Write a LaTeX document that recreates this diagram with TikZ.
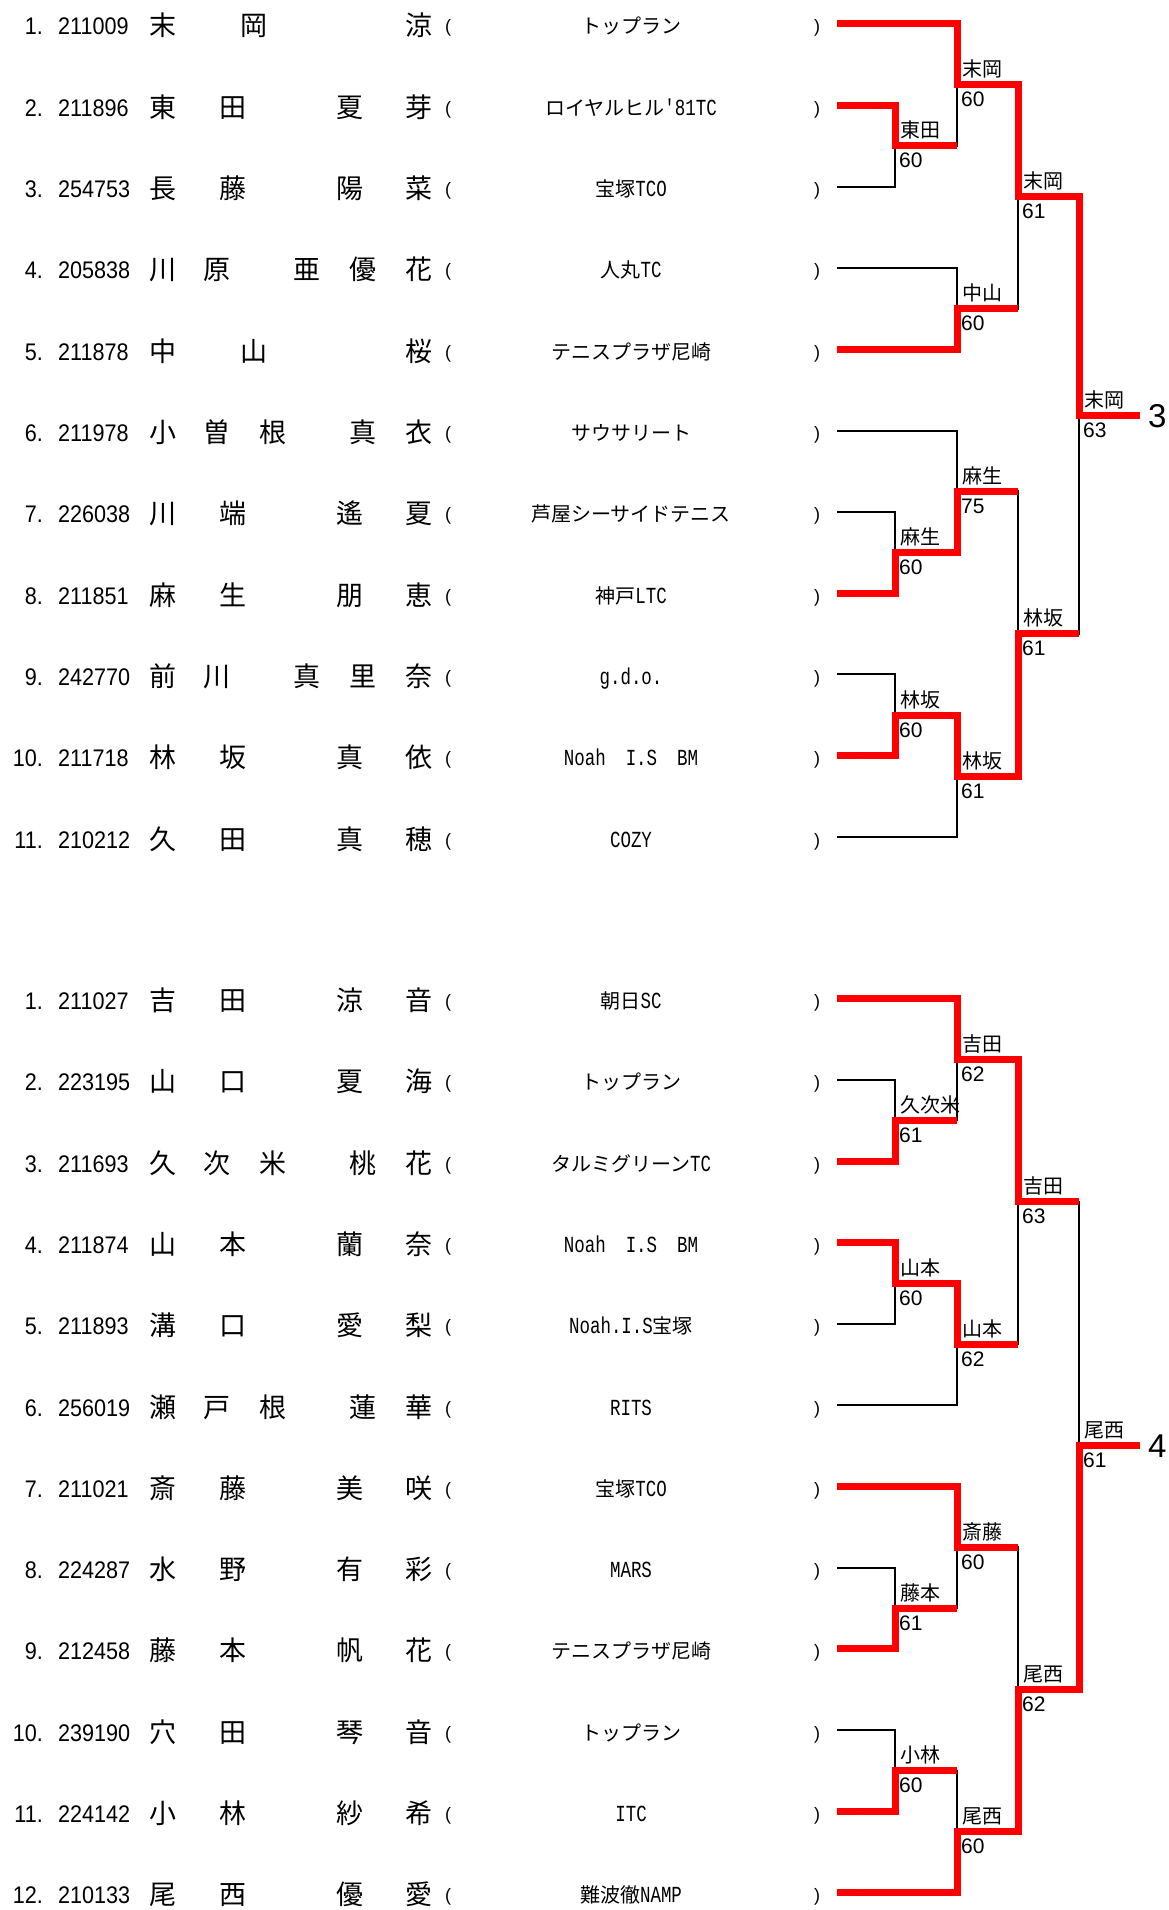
\documentclass[tikz,border=0pt]{standalone}
\usepackage{fontspec}
\setmainfont{Liberation Sans}
\newfontfamily\cjk{Noto Sans CJK JP}
\newfontfamily\numf[FakeStretch=0.9]{Liberation Sans}
\newfontfamily\monof[FakeStretch=0.76]{Liberation Mono}
\usetikzlibrary{calc}
\newcommand\CL[1]{{\monof\fontsize{23}{23}\selectfont #1}}
\tikzset{
  numtxt/.style={inner sep=0pt, font=\numf\fontsize{24}{24}\selectfont},
  kanji/.style={inner sep=0pt, anchor=base, font=\cjk\fontsize{27}{27}\selectfont},
  clubtxt/.style={inner sep=0pt, anchor=base, font=\cjk\fontsize{20}{20}\selectfont},
  paren/.style={inner sep=0pt, anchor=base, font=\fontsize{18}{18}\selectfont},
  blk/.style={line width=2pt, black},
  win/.style={line width=7pt, red, line join=miter},
  wname/.style={inner sep=0pt, anchor=base west, font=\cjk\fontsize{20}{20}\selectfont},
  wscore/.style={inner sep=0pt, anchor=base west, font=\fontsize{21}{21}\selectfont},
  rank/.style={inner sep=0pt, anchor=base west, font=\fontsize{33}{33}\selectfont}
}
\newcommand\player[6]{%
  \node[numtxt, anchor=base east] (#1n) at (43,#2+11) {#3};
  \node[numtxt, anchor=base west] (#1i) at (58,#2+11) {#4};
  \foreach \cx/\ch [count=\k] in {#5} {\node[kanji] (#1k\k) at (\cx,#2+12) {\ch};}
  \node[paren] (#1l) at (448,#2+9) {(};
  \node[clubtxt] (#1c) at (631,#2+10) {#6};
  \node[paren] (#1r) at (817,#2+9) {)};
  \coordinate (#1) at (837,#2);
}
\newcommand\res[3]{%
  \node[wname] (#1n) at ($(#1)+(5,-8)$) {#2};
  \node[wscore] (#1s) at ($(#1)+(4,22)$) {#3};
}
\begin{document}
\begin{tikzpicture}[x=1pt,y=-1pt]
\useasboundingbox (0,0) rectangle (1168,1910);
% ---------------- bracket 1 ----------------
\player{a1}{24}{1.}{211009}{163/末,254/岡,419/涼}{トップラン}
\player{a2}{105.3}{2.}{211896}{163/東,233/田,350/夏,419/芽}{ロイヤルヒル\CL{'81TC}}
\player{a3}{186.6}{3.}{254753}{163/長,233/藤,350/陽,419/菜}{宝塚\CL{TCO}}
\player{a4}{267.9}{4.}{205838}{163/川,217/原,307/亜,363/優,419/花}{人丸\CL{TC}}
\player{a5}{349.2}{5.}{211878}{163/中,254/山,419/桜}{テニスプラザ尼崎}
\player{a6}{430.5}{6.}{211978}{163/小,217/曽,273/根,363/真,419/衣}{サウサリート}
\player{a7}{511.8}{7.}{226038}{163/川,233/端,350/遙,419/夏}{芦屋シーサイドテニス}
\player{a8}{593.1}{8.}{211851}{163/麻,233/生,350/朋,419/恵}{神戸\CL{LTC}}
\player{a9}{674.4}{9.}{242770}{163/前,217/川,307/真,363/里,419/奈}{\CL{g.d.o.}}
\player{a10}{755.7}{10.}{211718}{163/林,233/坂,350/真,419/依}{\CL{Noah}\hspace{20pt}\CL{I.S}\hspace{20pt}\CL{BM}}
\player{a11}{837}{11.}{210212}{163/久,233/田,350/真,419/穂}{\CL{COZY}}
\coordinate (A) at (895,145.95);
\coordinate (B) at (957,84.975);
\coordinate (C) at (957,308.55);
\coordinate (D) at (1018,196.76);
\coordinate (E) at (895,552.45);
\coordinate (F) at (957,491.475);
\coordinate (G) at (895,715.05);
\coordinate (H) at (957,776.025);
\coordinate (I) at (1018,633.75);
\coordinate (J) at (1079,415.26);
\coordinate (out1) at (1140,415.26);
\draw[blk] (a2) -| (A) |- (a3);
\draw[blk] (a1) -| (B) |- (A);
\draw[blk] (a4) -| (C) |- (a5);
\draw[blk] (B) -| (D) |- (C);
\draw[blk] (a7) -| (E) |- (a8);
\draw[blk] (a6) -| (F) |- (E);
\draw[blk] (a9) -| (G) |- (a10);
\draw[blk] (G) -| (H) |- (a11);
\draw[blk] (F) -| (I) |- (H);
\draw[blk] (D) -| (J) |- (I);
\draw[win] (a1) -| (B) -| (D) -| (J) -- (out1);
\draw[win] (a2) -| (A) -- (A -| B);
\draw[win] (a5) -| (C) -- (C -| D);
\draw[win] (a8) -| (E) -| (F) -- (F -| I);
\draw[win] (a10) -| (G) -| (H) -| (I) -- (I -| J);
\res{A}{東田}{60}
\res{B}{末岡}{60}
\res{C}{中山}{60}
\res{D}{末岡}{61}
\res{E}{麻生}{60}
\res{F}{麻生}{75}
\res{G}{林坂}{60}
\res{H}{林坂}{61}
\res{I}{林坂}{61}
\res{J}{末岡}{63}
\node[rank] (rank1) at ($(J)+(69,12)$) {3};
% ---------------- bracket 2 ----------------
\player{b1}{998.5}{1.}{211027}{163/吉,233/田,350/涼,419/音}{朝日\CL{SC}}
\player{b2}{1079.8}{2.}{223195}{163/山,233/口,350/夏,419/海}{トップラン}
\player{b3}{1161.1}{3.}{211693}{163/久,217/次,273/米,363/桃,419/花}{タルミグリーン\CL{TC}}
\player{b4}{1242.4}{4.}{211874}{163/山,233/本,350/蘭,419/奈}{\CL{Noah}\hspace{20pt}\CL{I.S}\hspace{20pt}\CL{BM}}
\player{b5}{1323.7}{5.}{211893}{163/溝,233/口,350/愛,419/梨}{\CL{Noah.I.S}宝塚}
\player{b6}{1405}{6.}{256019}{163/瀬,217/戸,273/根,363/蓮,419/華}{\CL{RITS}}
\player{b7}{1486.3}{7.}{211021}{163/斎,233/藤,350/美,419/咲}{宝塚\CL{TCO}}
\player{b8}{1567.6}{8.}{224287}{163/水,233/野,350/有,419/彩}{\CL{MARS}}
\player{b9}{1648.9}{9.}{212458}{163/藤,233/本,350/帆,419/花}{テニスプラザ尼崎}
\player{b10}{1730.2}{10.}{239190}{163/穴,233/田,350/琴,419/音}{トップラン}
\player{b11}{1811.5}{11.}{224142}{163/小,233/林,350/紗,419/希}{\CL{ITC}}
\player{b12}{1892.8}{12.}{210133}{163/尾,233/西,350/優,419/愛}{難波徹\CL{NAMP}}
\coordinate (M1) at (895,1120.45);
\coordinate (M2) at (957,1059.475);
\coordinate (M3) at (895,1283.05);
\coordinate (M4) at (957,1344.025);
\coordinate (M5) at (1018,1201.75);
\coordinate (M6) at (895,1608.25);
\coordinate (M7) at (957,1547.275);
\coordinate (M8) at (895,1770.85);
\coordinate (M9) at (957,1831.825);
\coordinate (M10) at (1018,1689.55);
\coordinate (M11) at (1079,1445.65);
\coordinate (out2) at (1140,1445.65);
\draw[blk] (b2) -| (M1) |- (b3);
\draw[blk] (b1) -| (M2) |- (M1);
\draw[blk] (b4) -| (M3) |- (b5);
\draw[blk] (M3) -| (M4) |- (b6);
\draw[blk] (M2) -| (M5) |- (M4);
\draw[blk] (b8) -| (M6) |- (b9);
\draw[blk] (b7) -| (M7) |- (M6);
\draw[blk] (b10) -| (M8) |- (b11);
\draw[blk] (M8) -| (M9) |- (b12);
\draw[blk] (M7) -| (M10) |- (M9);
\draw[blk] (M5) -| (M11) |- (M10);
\draw[win] (b1) -| (M2) -| (M5) -- (M5 -| M11);
\draw[win] (b3) -| (M1) -- (M1 -| M2);
\draw[win] (b4) -| (M3) -| (M4) -- (M4 -| M5);
\draw[win] (b9) -| (M6) -- (M6 -| M7);
\draw[win] (b7) -| (M7) -- (M7 -| M10);
\draw[win] (b11) -| (M8) -- (M8 -| M9);
\draw[win] (b12) -| (M9) -| (M10) -| (M11) -- (out2);
\res{M1}{久次米}{61}
\res{M2}{吉田}{62}
\res{M3}{山本}{60}
\res{M4}{山本}{62}
\res{M5}{吉田}{63}
\res{M6}{藤本}{61}
\res{M7}{斎藤}{60}
\res{M8}{小林}{60}
\res{M9}{尾西}{60}
\res{M10}{尾西}{62}
\res{M11}{尾西}{61}
\node[rank] (rank2) at ($(M11)+(69,12)$) {4};
\end{tikzpicture}
\end{document}
